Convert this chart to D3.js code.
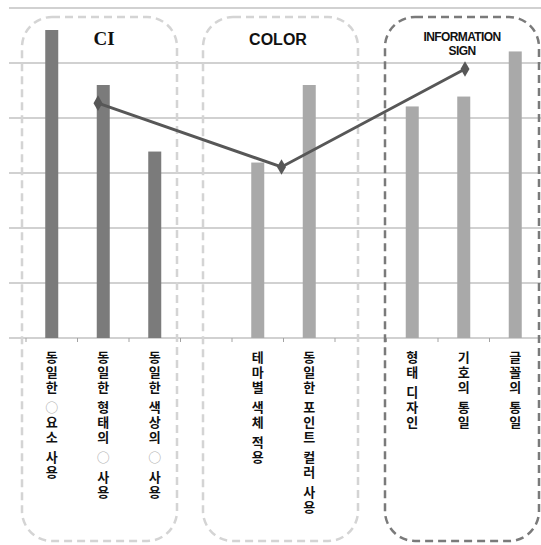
<!DOCTYPE html>
<html>
<head>
<meta charset="utf-8">
<script src="https://cdn.jsdelivr.net/npm/d3@7"></script>
<style>
  body { margin: 0; background: #fff; }
  svg { display: block; }
</style>
</head>
<body>
<svg id="chart"></svg>
<script>
// categories (empty slots are gaps between groups)
const categories = ['c1', 'c2', 'c3', 'gap1', 'c5', 'c6', 'gap2', 'c8', 'c9', 'c10'];
const categoryLabels = [
  '동일한 ○요소 사용', '동일한 형태의 ○ 사용', '동일한 색상의 ○ 사용', '',
  '테마별 색체 적용', '동일한 포인트 컬러 사용', '',
  '형태 디자인', '기호의 통일', '글꼴의 통일'
];
const barValues = [5.6, 4.6, 3.39, null, 3.19, 4.6, null, 4.21, 4.39, 5.21];
const barGroup = ['CI', 'CI', 'CI', null, 'COLOR', 'COLOR', null, 'INFO', 'INFO', 'INFO'];

const groups = ['CI', 'COLOR', 'INFO'];
const groupTitles = [['CI'], ['COLOR'], ['INFORMATION', 'SIGN']];
const lineValues = [4.27, 3.11, 4.89];

const yTicks = [1, 2, 3, 4, 5, 6];

const W = 541, H = 545;
const svg = d3.select('#chart').attr('width', W).attr('height', H);

const plotLeft = 9, plotRight = 541, plotBase = 338, plotTop = 8;

const x = d3.scaleBand().domain(categories).range([26, 541]);
const y = d3.scaleLinear().domain([0, 6]).range([plotBase, plotTop]);
const xLine = d3.scalePoint().domain(groups).range([98, 465]);

// gridlines
svg.append('g')
  .selectAll('line')
  .data(yTicks)
  .join('line')
  .attr('x1', plotLeft).attr('x2', plotRight)
  .attr('y1', d => y(d)).attr('y2', d => y(d))
  .attr('stroke', '#a3a3a3').attr('stroke-width', 1);

// bottom axis
const axis = svg.append('g')
  .attr('transform', `translate(0,${plotBase})`)
  .call(d3.axisBottom(x).tickValues([]).tickSize(0).tickSizeOuter(0));
axis.select('.domain').remove();
axis.append('line')
  .attr('x1', plotLeft).attr('x2', plotRight)
  .attr('stroke', '#a3a3a3');
axis.selectAll('.tk')
  .data(categories)
  .join('line')
  .attr('class', 'tk')
  .attr('x1', d => x(d)).attr('x2', d => x(d))
  .attr('y1', 0).attr('y2', 4)
  .attr('stroke', '#a3a3a3');

// group boxes
const boxes = [
  { g: 'CI', x0: 22, x1: 177, color: '#d4d4d4' },
  { g: 'COLOR', x0: 203, x1: 358, color: '#d4d4d4' },
  { g: 'INFO', x0: 385, x1: 539, color: '#7a7a7a' }
];
svg.append('g')
  .selectAll('rect')
  .data(boxes)
  .join('rect')
  .attr('x', d => d.x0).attr('y', 17)
  .attr('width', d => d.x1 - d.x0).attr('height', 524)
  .attr('rx', 30).attr('ry', 30)
  .attr('fill', 'none')
  .attr('stroke', d => d.color)
  .attr('stroke-width', 2.5)
  .attr('stroke-dasharray', '8,5');

// bars
const bw = 13;
svg.append('g')
  .selectAll('rect')
  .data(categories.map((c, i) => ({ c, v: barValues[i], g: barGroup[i] })).filter(d => d.v != null))
  .join('rect')
  .attr('x', d => x(d.c) + x.bandwidth() / 2 - bw / 2)
  .attr('y', d => y(d.v))
  .attr('width', bw)
  .attr('height', d => y(0) - y(d.v))
  .attr('fill', d => d.g === 'CI' ? '#7b7b7b' : '#a9a9a9');

// line + diamond markers
const lineData = groups.map((g, i) => ({ g, v: lineValues[i] }));
svg.append('path')
  .datum(lineData)
  .attr('fill', 'none')
  .attr('stroke', '#575757')
  .attr('stroke-width', 3)
  .attr('d', d3.line().x(d => xLine(d.g)).y(d => y(d.v)));
svg.append('g')
  .selectAll('path')
  .data(lineData)
  .join('path')
  .attr('transform', d => `translate(${xLine(d.g)},${y(d.v)})`)
  .attr('d', d3.symbol(d3.symbolDiamond, 70))
  .attr('fill', '#575757');

// group titles
const titleX = [104, 278, 462];
groups.forEach((g, i) => {
  const t = groupTitles[i];
  if (t.length === 1) {
    svg.append('text')
      .attr('x', titleX[i]).attr('y', 45)
      .attr('text-anchor', 'middle')
      .attr('font-family', g === 'CI' ? 'Liberation Serif' : 'Liberation Sans')
      .attr('font-weight', 'bold')
      .attr('font-size', g === 'CI' ? 19 : 16)
      .attr('fill', '#111')
      .text(t[0]);
  } else {
    t.forEach((line, j) => {
      svg.append('text')
        .attr('x', titleX[i]).attr('y', 41 + j * 14)
        .attr('text-anchor', 'middle')
        .attr('font-family', 'Liberation Sans Narrow, Liberation Sans')
        .attr('font-weight', 'bold')
        .attr('font-size', 12)
        .attr('letter-spacing', -0.6)
        .attr('fill', '#111')
        .text(line);
    });
  }
});

// vertical category labels (Hangul stays upright, spaces stay narrow)
const labelText = svg.append('g')
  .selectAll('text')
  .data(categories.map((c, i) => ({ c, label: categoryLabels[i] })).filter(d => d.label))
  .join('text')
  .attr('x', d => x(d.c) + x.bandwidth() / 2)
  .attr('y', 351)
  .style('writing-mode', 'vertical-rl')
  .style('text-orientation', 'mixed')
  .attr('font-family', 'Noto Sans CJK KR')
  .attr('font-weight', 'bold')
  .attr('font-size', 13)
  .attr('letter-spacing', 2)
  .attr('fill', '#111');

// the ○ placeholder is drawn in light grey
labelText.selectAll('tspan')
  .data(d => d.label.split(/(○)/).filter(s => s.length))
  .join('tspan')
  .attr('fill', s => s === '○' ? '#b5b5b5' : null)
  .text(s => s);
</script>
</body>
</html>
